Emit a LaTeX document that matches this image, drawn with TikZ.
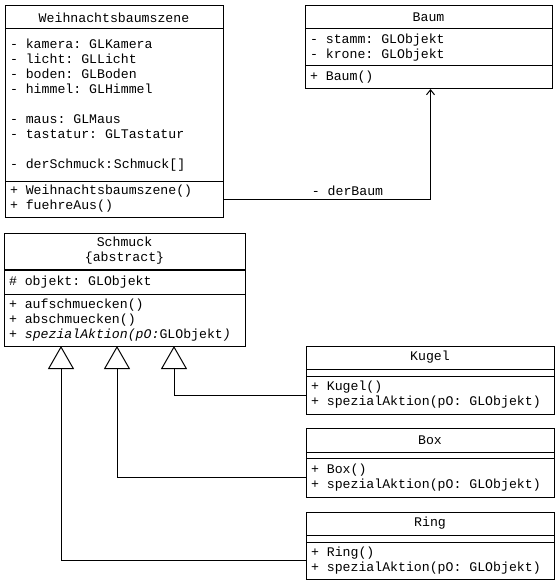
\documentclass[tikz,border=0pt]{standalone}
\usepackage{fontspec}
\setmainfont{Liberation Mono}
\usetikzlibrary{arrows.meta,positioning}

\newcommand\umlfont{\fontsize{13.2bp}{15bp}\selectfont}

\tikzset{
  part/.style={draw, line width=1bp, anchor=north west, outer sep=0pt,
    inner xsep=5bp, inner ysep=1bp, align=left,
    execute at begin node={\spaceskip 7.92bp\xspaceskip 7.92bp\relax}},
  head/.style={part, align=center},
  gap/.style={draw, line width=1bp, anchor=north west, outer sep=0pt, inner sep=0pt},
  assoc/.style={line width=1bp, -{Straight Barb[length=5bp,width=8bp]}},
  inherit/.style={line width=1bp, -{Triangle[open,length=23bp,width=26bp,fill=white]}}
}

\begin{document}
\begin{tikzpicture}[x=1bp, y=-1bp, font=\umlfont]
  \useasboundingbox (0,0) rectangle (560,584);

  % Weihnachtsbaumszene
  \node[head, text width=208bp, minimum height=23bp] (szene-t) at (5,6) {Weihnachtsbaumszene};
  \node[part, text width=208bp, minimum height=152bp] (szene-a) at (szene-t.south west)
    {- kamera: GLKamera\\- licht: GLLicht\\- boden: GLBoden\\- himmel: GLHimmel\\[15bp]
     - maus: GLMaus\\- tastatur: GLTastatur\\[15bp]
     - derSchmuck:\hspace{1bp}Schmuck[]};
  \node[part, text width=208bp, minimum height=36bp] (szene-m) at (szene-a.south west)
    {+ Weihnachtsbaumszene()\\+ fuehreAus()};

  % Baum
  \node[head, text width=237bp, minimum height=23bp] (baum-t) at (305,6) {Baum};
  \node[part, text width=237bp, minimum height=37bp] (baum-a) at (baum-t.south west)
    {- stamm: GLObjekt\\- krone: GLObjekt};
  \node[part, text width=237bp, minimum height=23bp] (baum-m) at (baum-a.south west) {+ Baum()};

  % Schmuck
  \node[head, text width=231bp, minimum height=36bp] (schmuck-t) at (4,233) {Schmuck\\\{abstract\}};
  \node[gap, minimum width=241bp, minimum height=1bp] (schmuck-g) at (schmuck-t.south west) {};
  \node[part, text width=231bp, minimum height=24bp] (schmuck-a) at (schmuck-g.south west)
    {\# objekt: GLObjekt};
  \node[part, text width=231bp, minimum height=52bp] (schmuck-m) at (schmuck-a.south west)
    {+ aufschmuecken()\\+ abschmuecken()\\+ \textit{spezialAktion(pO:}GLObjekt\textit{)}};

  % Kugel
  \node[head, text width=238bp, minimum height=23bp] (kugel-t) at (306,346) {Kugel};
  \node[gap, minimum width=248bp, minimum height=7bp] (kugel-g) at (kugel-t.south west) {};
  \node[part, text width=238bp, minimum height=38bp] (kugel-m) at (kugel-g.south west)
    {+ Kugel()\\+ spezialAktion(pO: GLObjekt)};

  % Box
  \node[head, text width=238bp, minimum height=24bp] (box-t) at (306,428) {Box};
  \node[gap, minimum width=248bp, minimum height=6bp] (box-g) at (box-t.south west) {};
  \node[part, text width=238bp, minimum height=39bp] (box-m) at (box-g.south west)
    {+ Box()\\+ spezialAktion(pO: GLObjekt)};

  % Ring
  \node[head, text width=238bp, minimum height=23bp] (ring-t) at (306,512) {Ring};
  \node[gap, minimum width=248bp, minimum height=7bp] (ring-g) at (ring-t.south west) {};
  \node[part, text width=238bp, minimum height=37bp] (ring-m) at (ring-g.south west)
    {+ Ring()\\+ spezialAktion(pO: GLObjekt)};

  % Assoziation
  \draw[assoc] (szene-m.east) -| ([xshift=2bp]baum-m.south) node[pos=0.3, above] {- derBaum};

  % Vererbung
  \coordinate (kugel-in) at ([xshift=170bp]schmuck-m.south west);
  \coordinate (box-in) at ([xshift=113bp]schmuck-m.south west);
  \coordinate (ring-in) at ([xshift=57bp]schmuck-m.south west);
  \draw[inherit] (kugel-m.west) -| (kugel-in);
  \draw[inherit] (box-m.west) -| (box-in);
  \draw[inherit] (ring-m.west) -| (ring-in);
\end{tikzpicture}
\end{document}
